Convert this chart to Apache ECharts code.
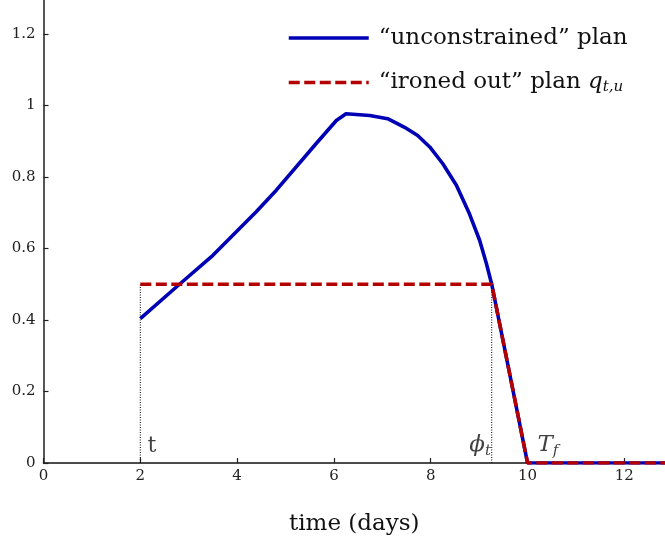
<!DOCTYPE html>
<html>
<head>
<meta charset="utf-8">
<script src="https://cdn.jsdelivr.net/npm/echarts@6/dist/echarts.min.js"></script>
<style>
html,body{margin:0;padding:0;background:#fff;}
#c{width:665px;height:546px;}
</style>
</head>
<body>
<div id="c"></div>
<script>
// ---- data ----
var unconstrainedX = [2, 2.81, 3.5, 4.39, 4.81, 5.63, 6.05, 6.25, 6.74, 7.11, 7.46, 7.73, 7.98, 8.25, 8.53, 8.80, 9.01, 9.15, 9.26, 10, 12.84];
var unconstrainedY = [0.404, 0.5, 0.581, 0.702, 0.763, 0.893, 0.958, 0.977, 0.972, 0.963, 0.939, 0.916, 0.884, 0.837, 0.777, 0.697, 0.623, 0.558, 0.5, 0, 0];
var ironedX = [2, 9.26, 10, 12.84];
var ironedY = [0.5, 0.5, 0, 0];
var tStart = 2;
var phiT = 9.26;
var markerTop = 0.5;
var xTicks = [0, 2, 4, 6, 8, 10, 12];
var yTicks = [0, 0.2, 0.4, 0.6, 0.8, 1, 1.2];
var xMax = 12.84;
var yMax = 1.295;
var annotations = [
  [2.24, 0.048, '{r|t}'],
  [9.02, 0.05, '{i|ϕ}{s|t}'],
  [10.42, 0.05, '{i|T}{s|f}']
];
var seriesNames = ['“unconstrained” plan', '“ironed out” plan'];

function zip(xs, ys) { return xs.map(function (x, i) { return [x, ys[i]]; }); }

var FONT = 'DejaVu Serif';
var chart = echarts.init(document.getElementById('c'), null, {renderer: 'canvas'});
var option = {
  animation: false,
  backgroundColor: '#fff',
  grid: {left: 43.5, right: 0, top: 0, bottom: 83, containLabel: false},
  legend: {
    orient: 'vertical',
    left: 282,
    top: 21,
    itemWidth: 80,
    itemHeight: 24,
    itemGap: 20,
    data: seriesNames,
    itemStyle: {opacity: 0, borderWidth: 0},
    lineStyle: {width: 3.5},
    textStyle: {
      fontFamily: FONT, fontSize: 23, color: '#111', lineHeight: 24, padding: [0, 0, 0, 5],
      rich: {
        n: {fontFamily: FONT, fontSize: 23, color: '#111', lineHeight: 24},
        q: {fontFamily: FONT, fontStyle: 'italic', fontSize: 23, color: '#111', lineHeight: 24},
        s: {fontFamily: FONT, fontStyle: 'italic', fontSize: 15, color: '#111', lineHeight: 24, padding: [10, 0, 0, 0]}
      }
    },
    formatter: function (name) {
      if (name === seriesNames[1]) return '{n|' + name + ' }{q|q}{s|t,u}';
      return '{n|' + name + '}';
    }
  },
  xAxis: {
    type: 'value', min: 0, max: xMax,
    name: 'time (days)', nameLocation: 'middle', nameGap: 50,
    nameTextStyle: {fontFamily: FONT, fontSize: 23, color: '#111'},
    axisLine: {lineStyle: {color: '#111', width: 1.6}},
    axisTick: {inside: true, length: 5, lineStyle: {color: '#222', width: 1.2}, customValues: xTicks},
    axisLabel: {customValues: xTicks, fontFamily: FONT, fontSize: 15, color: '#222', margin: 6},
    splitLine: {show: false}
  },
  yAxis: {
    type: 'value', min: 0, max: yMax,
    axisLine: {show: true, lineStyle: {color: '#444', width: 1.8}},
    axisTick: {show: true, inside: true, length: 5, lineStyle: {color: '#222', width: 1.2}, customValues: yTicks},
    axisLabel: {customValues: yTicks, fontFamily: FONT, fontSize: 15, color: '#222', margin: 8},
    splitLine: {show: false}
  },
  series: [
    {
      name: 'tline', type: 'line', data: [[tStart, 0], [tStart, markerTop]],
      symbol: 'none', lineStyle: {color: '#000', width: 1, type: [1, 1.5]}, z: 1, silent: true
    },
    {
      name: 'philine', type: 'line', data: [[phiT, 0], [phiT, markerTop]],
      symbol: 'none', lineStyle: {color: '#000', width: 1, type: [1, 1.5]}, z: 1, silent: true
    },
    {
      name: seriesNames[0], type: 'line', data: zip(unconstrainedX, unconstrainedY),
      symbol: 'none', showSymbol: false, color: '#0000B4',
      lineStyle: {color: '#0000B4', width: 3.6}, z: 2
    },
    {
      name: seriesNames[1], type: 'line', data: zip(ironedX, ironedY),
      symbol: 'none', showSymbol: false, color: '#B40000',
      lineStyle: {color: '#B40000', width: 3.6, type: [11, 4.5]}, z: 3
    },
    {
      name: 'labels', type: 'scatter', symbolSize: 0, silent: true, z: 4,
      data: annotations.map(function (a) { return {value: [a[0], a[1]], text: a[2]}; }),
      label: {
        show: true, position: 'inside',
        formatter: function (p) { return p.data.text; },
        rich: {
          r: {fontFamily: FONT, fontSize: 22, color: '#111'},
          i: {fontFamily: FONT, fontStyle: 'italic', fontSize: 23, color: '#111'},
          s: {fontFamily: FONT, fontStyle: 'italic', fontSize: 15, color: '#111', padding: [12, 0, 0, 0]}
        }
      }
    }
  ]
};
chart.setOption(option);
</script>
</body>
</html>
